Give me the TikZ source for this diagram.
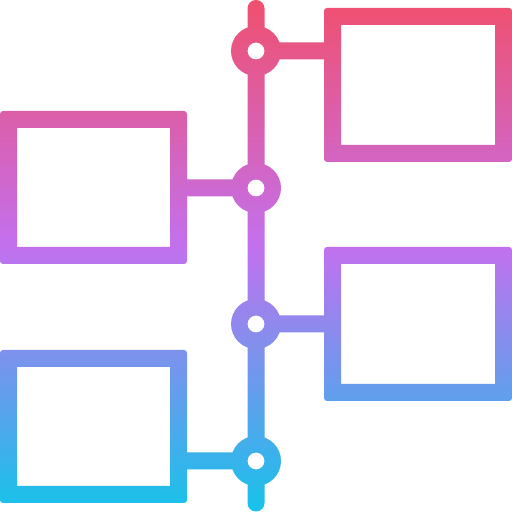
\documentclass[tikz,border=0pt]{standalone}
\definecolor{ct}{RGB}{240,80,110}
\definecolor{cm}{RGB}{195,112,238}
\definecolor{cb}{RGB}{22,195,234}
\pgfdeclareverticalshading{icongrad}{100bp}{color(0bp)=(cb); color(25bp)=(cb); color(51bp)=(cm); color(75bp)=(ct); color(100bp)=(ct)}
\begin{document}
\begin{tikzpicture}[x=0.5pt,y=0.5pt]
\fill[white] (0,0) rectangle (512,512);
\useasboundingbox (0,0) rectangle (512,512);
\shade[shading=icongrad]
 % top-right box
 {[rounded corners=1.5pt] (324,350) -- (512,350) -- (512,504) -- (324,504) -- cycle}
 (341,367) -- (341,487) -- (495,487) -- (495,367) -- cycle
 % left-middle box
 {[rounded corners=1.5pt] (0,248) -- (187,248) -- (187,401) -- (0,401) -- cycle}
 (17,265) -- (17,384) -- (170,384) -- (170,265) -- cycle
 % right-middle box
 {[rounded corners=1.5pt] (324,111) -- (512,111) -- (512,265) -- (324,265) -- cycle}
 (341,128) -- (341,248) -- (495,248) -- (495,128) -- cycle
 % bottom-left box
 {[rounded corners=1.5pt] (0,9) -- (187,9) -- (187,162) -- (0,162) -- cycle}
 (17,26) -- (17,145) -- (170,145) -- (170,26) -- cycle
 % rings
 (281,461) arc[start angle=0,end angle=360,radius=25] -- cycle
 (264.5,461) arc[start angle=0,end angle=-360,radius=8.5] -- cycle
 (281,324) arc[start angle=0,end angle=360,radius=25] -- cycle
 (264.5,324) arc[start angle=0,end angle=-360,radius=8.5] -- cycle
 (281,188) arc[start angle=0,end angle=360,radius=25] -- cycle
 (264.5,188) arc[start angle=0,end angle=-360,radius=8.5] -- cycle
 (281,51) arc[start angle=0,end angle=360,radius=25] -- cycle
 (264.5,51) arc[start angle=0,end angle=-360,radius=8.5] -- cycle
 % vertical line segments
 (247.5,478) -- (264.5,478) -- (264.5,503.5) -- (247.5,503.5) -- cycle
 (247.5,341) -- (264.5,341) -- (264.5,444) -- (247.5,444) -- cycle
 (247.5,205) -- (264.5,205) -- (264.5,307) -- (247.5,307) -- cycle
 (247.5,68) -- (264.5,68) -- (264.5,171) -- (247.5,171) -- cycle
 (247.5,9) -- (264.5,9) -- (264.5,34) -- (247.5,34) -- cycle
 (264.5,503.5) arc[start angle=0,end angle=360,radius=8.5] -- cycle
 (264.5,9) arc[start angle=0,end angle=360,radius=8.5] -- cycle
 % connectors
 (272,452.5) -- (332,452.5) -- (332,469.5) -- (272,469.5) -- cycle
 (180,315.5) -- (240,315.5) -- (240,332.5) -- (180,332.5) -- cycle
 (272,179.5) -- (332,179.5) -- (332,196.5) -- (272,196.5) -- cycle
 (180,42.5) -- (240,42.5) -- (240,59.5) -- (180,59.5) -- cycle;
\end{tikzpicture}
\end{document}
